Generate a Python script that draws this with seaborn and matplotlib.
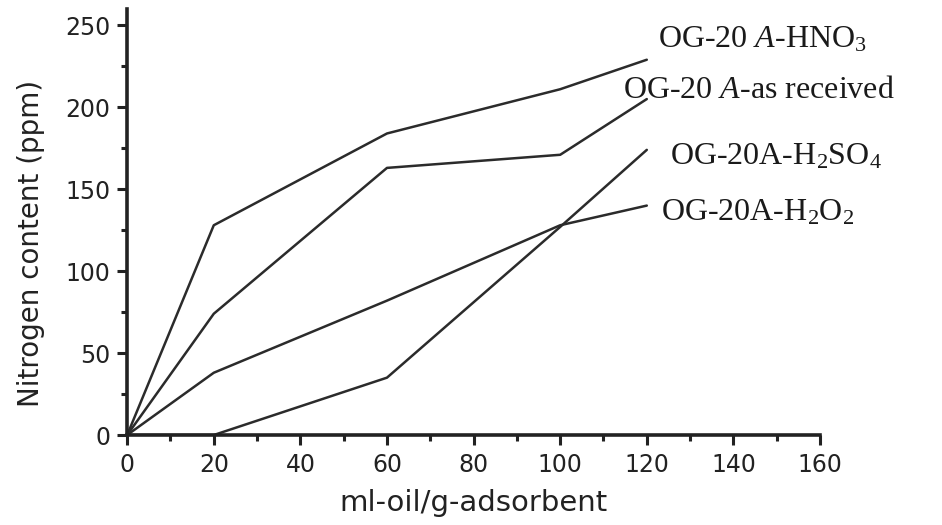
import matplotlib
matplotlib.use("Agg")
import matplotlib.pyplot as plt
import seaborn as sns
import pandas as pd
from matplotlib.ticker import MultipleLocator

# ---- data ----
x_hno3 = [0, 20, 60, 100, 120]
y_hno3 = [0, 128, 184, 211, 229]
x_asrec = [0, 20, 60, 100, 120]
y_asrec = [0, 74, 163, 171, 205]
x_h2so4 = [0, 20, 60, 100, 120]
y_h2so4 = [0, 0, 35, 127, 174]
x_h2o2 = [0, 20, 60, 100, 120]
y_h2o2 = [0, 38, 82, 128, 140]

series_names = ["OG-20 $\\mathit{A}$-HNO$_3$", "OG-20 $\\mathit{A}$-as received",
                "OG-20A-H$_2$SO$_4$", "OG-20A-H$_2$O$_2$"]
label_x = [122.5, 114.5, 125.3, 123.3]
label_y = [241, 210.5, 169.5, 135.5]

x_ticks = [0, 20, 40, 60, 80, 100, 120, 140, 160]
y_ticks = [0, 50, 100, 150, 200, 250]
x_label = "ml-oil/g-adsorbent"
y_label = "Nitrogen content (ppm)"

sns.set_theme(style="ticks")
plt.rcParams["font.family"] = ["DejaVu Sans"]
plt.rcParams["mathtext.fontset"] = "custom"
plt.rcParams["mathtext.rm"] = "Liberation Serif"
plt.rcParams["mathtext.it"] = "Liberation Serif:italic"
plt.rcParams["mathtext.default"] = "regular"

frames = []
for name, xs, ys in zip(series_names,
                        [x_hno3, x_asrec, x_h2so4, x_h2o2],
                        [y_hno3, y_asrec, y_h2so4, y_h2o2]):
    frames.append(pd.DataFrame({"x": xs, "y": ys, "series": name}))
df = pd.concat(frames, ignore_index=True)

fig = plt.figure(figsize=(9.42, 5.25), dpi=100)
ax = fig.add_axes([0.135, 0.1714, 0.7355, 0.8116])

sns.lineplot(data=df, x="x", y="y", hue="series", units="series", estimator=None,
             palette=["#2b2b2b"] * 4, linewidth=1.8, legend=False, ax=ax, sort=False)

ax.set_xlim(0, 160)
ax.set_ylim(0, 260)
ax.set_xticks(x_ticks)
ax.set_yticks(y_ticks)
ax.xaxis.set_minor_locator(MultipleLocator(10))
ax.yaxis.set_minor_locator(MultipleLocator(25))
ax.tick_params(axis="both", which="major", direction="out", length=7, width=2.2,
               labelsize=17, color="#222222", labelcolor="#222222")
ax.tick_params(axis="x", which="major", pad=6)
ax.tick_params(axis="y", which="major", pad=5)
ax.tick_params(axis="both", which="minor", direction="out", length=4, width=2.2,
               color="#222222")
for s in ["top", "right"]:
    ax.spines[s].set_visible(False)
for s in ["left", "bottom"]:
    ax.spines[s].set_linewidth(2.6)
    ax.spines[s].set_color("#222222")

ax.set_xlabel(x_label, fontsize=21, color="#222222")
ax.set_ylabel(y_label, fontsize=20, color="#222222")
ax.xaxis.set_label_coords(0.5, -0.127)
ax.yaxis.set_label_coords(-0.118, 0.45)

for name, lx, ly in zip(series_names, label_x, label_y):
    ax.text(lx, ly, name, fontsize=23, family="Liberation Serif", color="#1a1a1a",
            ha="left", va="center", clip_on=False)

fig.savefig("out.png", dpi=100)
